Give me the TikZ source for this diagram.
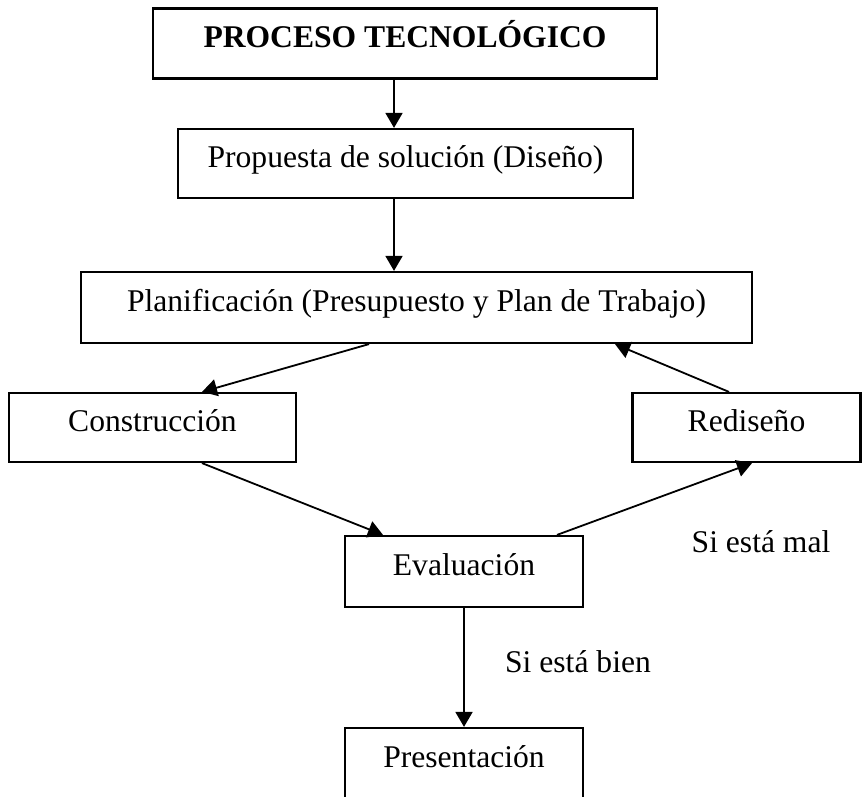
\documentclass[tikz,border=0pt]{standalone}
\usepackage{fontspec}
\setmainfont{Liberation Serif}
\usetikzlibrary{calc}
\usetikzlibrary{arrows.meta}

\begin{document}
\begin{tikzpicture}[x=0.5pt,y=-0.5pt,
  letra/.style={font=\fontsize{15.8}{18}\selectfont},
  caja/.style={letra, draw=black, line width=1.1pt, inner sep=0pt, minimum height=35pt, text height=11pt, text depth=7pt},
  flecha/.style={black, line width=0.9pt, -{Triangle[length=7.5pt,width=8.5pt]}}]
\useasboundingbox (0,0) rectangle (865,796);
\clip (0,0) rectangle (865,796);
\node[caja, minimum width=252pt, font=\fontsize{15.8}{18}\selectfont\bfseries] (proc) at (405,43.5) {PROCESO TECNOLÓGICO};
\node[caja, minimum width=227.5pt, minimum height=34.5pt] (prop) at (405.5,163.5) {Propuesta de solución (Diseño)};
\node[caja, minimum width=335.5pt, minimum height=35.5pt] (plan) at (416.5,307.5) {Planificación (Presupuesto y Plan de Trabajo)};
\node[caja, minimum width=143.5pt, minimum height=34.5pt] (cons) at (152.5,427.5) {Construcción};
\node[caja, minimum width=114pt, minimum height=34.5pt] (redi) at (746.5,427.5) {Rediseño};
\node[caja, minimum width=119pt, minimum height=35.5pt] (eval) at (464,571.5) {Evaluación};
\node[caja, minimum width=119pt, minimum height=35.5pt] (pres) at (464,763.5) {Presentación};
\draw[flecha] ($(proc.south)+(-11,0)$) -- ($(prop.north)+(-11.5,0)$);
\draw[flecha] ($(prop.south)+(-11.5,0)$) -- ($(plan.north)+(-22.5,0)$);
\draw[flecha] ($(plan.south)+(-47.5,0)$) -- ($(cons.north)+(49.5,0)$);
\draw[flecha] ($(redi.north)+(-17.5,0)$) -- ($(plan.south)+(198.5,0)$);
\draw[flecha] ($(cons.south)+(49.5,0)$) -- ($(eval.north)+(-81,0)$);
\draw[flecha] ($(eval.north)+(93,0)$) -- ($(redi.south)+(5.5,0)$);
\draw[flecha] (eval.south) -- (pres.north);
\node[letra] (mal) at (761,542) {Si está mal};
\node[letra] (bien) at (578,662) {Si está bien};
\end{tikzpicture}
\end{document}
